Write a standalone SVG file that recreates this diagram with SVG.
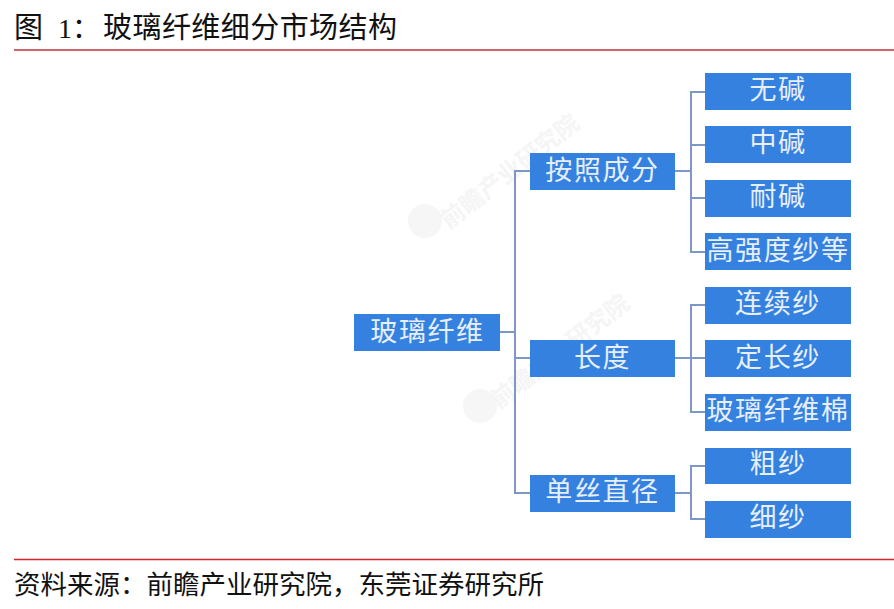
<svg xmlns="http://www.w3.org/2000/svg" width="894" height="609" viewBox="0 0 894 609">
<style>
.box{fill:#3581e0}
.lbl{font-family:"Noto Sans CJK SC","Liberation Sans",sans-serif;font-size:27px;letter-spacing:1.6px;fill:#e6effa;text-anchor:middle}
.lbl5{letter-spacing:1.6px}
.cap{font-family:"Noto Sans CJK SC","Liberation Serif",serif;fill:#111}
.wm{font-family:"Noto Sans CJK SC",sans-serif;font-size:24px;font-weight:700;fill:#f5f5f5;text-anchor:middle}
.rule{stroke:#c22f3c;stroke-width:1.5}
#connectors path{fill:none;stroke:#7d97c6;stroke-width:2}
</style>
<rect width="894" height="609" fill="#fff"/>
<text class="cap" x="14" y="38" font-size="29">图</text>
<text x="58" y="38" font-size="28" fill="#111" font-family="Liberation Serif, serif">1</text>
<text class="cap" x="72" y="38" font-size="28">：</text>
<text class="cap" x="103" y="38" font-size="29" textLength="294">玻璃纤维细分市场结构</text>
<line class="rule" x1="14" y1="50" x2="894" y2="50"/>
<line x1="14" y1="559.5" x2="894" y2="559.5" stroke="#d8232f" stroke-width="1.5"/>
<text class="cap" x="14" y="594" font-size="26.5" textLength="530">资料来源：前瞻产业研究院，东莞证券研究所</text>
<g id="watermarks">
<text class="wm" transform="translate(515 178) rotate(-38)">前瞻产业研究院</text>
<text class="wm" transform="translate(565 358) rotate(-38)">前瞻产业研究院</text>
<circle cx="425" cy="221" r="17" fill="#f6f6f6"/>
<circle cx="480" cy="406" r="17" fill="#f6f6f6"/>
</g>
<g id="connectors">
<path d="M500 332H515"/>
<path d="M530 171H515V493H530"/>
<path d="M515 358H530"/>
<path d="M675 171H691"/>
<path d="M705 92H691V252H705"/>
<path d="M691 145H705"/>
<path d="M691 198H705"/>
<path d="M675 358H705"/>
<path d="M705 305H691V412H705"/>
<path d="M675 493H691"/>
<path d="M705 466H691V519H705"/>
</g>
<g id="root"><rect class="box" x="354" y="314" width="146" height="37"/><text class="lbl" x="427.500" y="341">玻璃纤维</text></g>
<g id="mid1"><rect class="box" x="530" y="153" width="145" height="37"/><text class="lbl" x="602.500" y="180">按照成分</text></g>
<g id="mid2"><rect class="box" x="530" y="340" width="145" height="37"/><text class="lbl" x="602.500" y="367">长度</text></g>
<g id="mid3"><rect class="box" x="530" y="475" width="145" height="37"/><text class="lbl" x="602.500" y="501">单丝直径</text></g>
<g id="leaf1"><rect class="box" x="705" y="73" width="146" height="37"/><text class="lbl" x="778" y="99">无碱</text></g>
<g id="leaf2"><rect class="box" x="705" y="126" width="146" height="37"/><text class="lbl" x="778" y="152">中碱</text></g>
<g id="leaf3"><rect class="box" x="705" y="180" width="146" height="37"/><text class="lbl" x="778" y="206">耐碱</text></g>
<g id="leaf4"><rect class="box" x="705" y="233" width="146" height="37"/><text class="lbl lbl5" x="778" y="260">高强度纱等</text></g>
<g id="leaf5"><rect class="box" x="705" y="287" width="146" height="37"/><text class="lbl" x="778" y="313">连续纱</text></g>
<g id="leaf6"><rect class="box" x="705" y="340" width="146" height="37"/><text class="lbl" x="778" y="367">定长纱</text></g>
<g id="leaf7"><rect class="box" x="705" y="394" width="146" height="37"/><text class="lbl lbl5" x="778" y="420">玻璃纤维棉</text></g>
<g id="leaf8"><rect class="box" x="705" y="448" width="146" height="36"/><text class="lbl" x="778" y="473">粗纱</text></g>
<g id="leaf9"><rect class="box" x="705" y="501" width="146" height="37"/><text class="lbl" x="778" y="527">细纱</text></g>
</svg>
